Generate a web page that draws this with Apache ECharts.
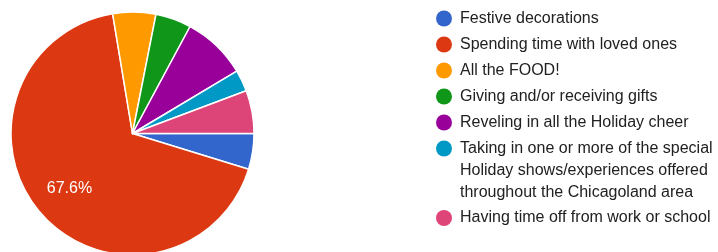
<!DOCTYPE html>
<html lang="en">
<head>
    <meta charset="UTF-8">
    <title>Holiday favorites</title>
    <style>
        html,body{
            width: 100%;
            height: 100%;
            margin: 0;
            padding: 0;
            background: #fff;
        }
        #chart{
            width: 718px;
            height: 252px;
        }
    </style>
</head>
<body>
    <div id="chart"></div>
    <script src="https://cdn.jsdelivr.net/npm/echarts@6/dist/echarts.min.js"></script>
    <script>
        // answers (legend order) and response counts
        var categories = [
            'Festive decorations',
            'Spending time with loved ones',
            'All the FOOD!',
            'Giving and/or receiving gifts',
            'Reveling in all the Holiday cheer',
            'Taking in one or more of the special\nHoliday shows/experiences offered\nthroughout the Chicagoland area',
            'Having time off from work or school'
        ];
        var counts = [5, 71, 6, 5, 9, 3, 6];
        var colors = ['#3366cc', '#dc3912', '#ff9900', '#109618', '#990099', '#0099c6', '#dd4477'];
        // only slices this big get a percent label
        var labelMin = 0.1;

        var font = 'Arial, "Liberation Sans", sans-serif';
        var total = counts.reduce(function (a, b) { return a + b; }, 0);
        var myChart = echarts.init(document.getElementById('chart'));

        var pieData = categories.map(function (name, i) {
            return { name: name, value: counts[i], itemStyle: { color: colors[i] } };
        });
        // transparent copy, only used to put the label further out like google does
        var labelData = categories.map(function (name, i) {
            return {
                name: name,
                value: counts[i],
                label: { show: counts[i] / total >= labelMin }
            };
        });

        // echarts centres the dot on a multi-line legend text, google puts it on the first line.
        // so the long answer shows its first line in the legend and the rest as plain text under it,
        // and the last answer gets its own legend below that.
        var longIdx = 5;
        var restLines = categories[longIdx].split('\n').slice(1);

        var legendBase = {
            orient: 'vertical',
            left: 436,
            padding: 0,
            itemWidth: 22,
            itemHeight: 16,
            itemGap: 4,
            icon: 'circle',
            selectedMode: false,
            itemStyle: { borderWidth: 0 },
            formatter: function (name) { return name.split('\n')[0]; },
            textStyle: {
                fontFamily: font,
                fontSize: 16,
                lineHeight: 22,
                color: '#212121'
            }
        };

        var graphics = restLines.map(function (line, i) {
            return {
                type: 'text',
                x: 460,
                y: 148.5 + 22 * (i + 1),
                style: {
                    text: line,
                    font: '16px ' + font,
                    fill: '#212121',
                    verticalAlign: 'middle'
                }
            };
        });

        var option = {
            animation: false,
            color: colors,
            legend: [
                Object.assign({}, legendBase, { top: 7.5, data: categories.slice(0, longIdx + 1) }),
                Object.assign({}, legendBase, { top: 207, data: categories.slice(longIdx + 1) })
            ],
            graphic: graphics,
            series: [
                {
                    type: 'pie',
                    center: [132.5, 133.5],
                    radius: [0, 121.5],
                    startAngle: 0,
                    clockwise: true,
                    label: { show: false },
                    labelLine: { show: false },
                    emphasis: { disabled: true },
                    itemStyle: {
                        borderColor: '#fff',
                        borderWidth: 1.5
                    },
                    data: pieData
                },
                {
                    type: 'pie',
                    center: [132.5, 133.5],
                    radius: [40, 121.5],
                    startAngle: 0,
                    clockwise: true,
                    silent: true,
                    percentPrecision: 1,
                    itemStyle: { color: 'rgba(0,0,0,0)', borderWidth: 0 },
                    emphasis: { disabled: true },
                    labelLine: { show: false },
                    label: {
                        position: 'inside',
                        formatter: '{d}%',
                        color: '#fff',
                        fontFamily: font,
                        fontSize: 16,
                        textBorderWidth: 0
                    },
                    data: labelData
                }
            ]
        };
        myChart.setOption(option);
    </script>
</body>
</html>
